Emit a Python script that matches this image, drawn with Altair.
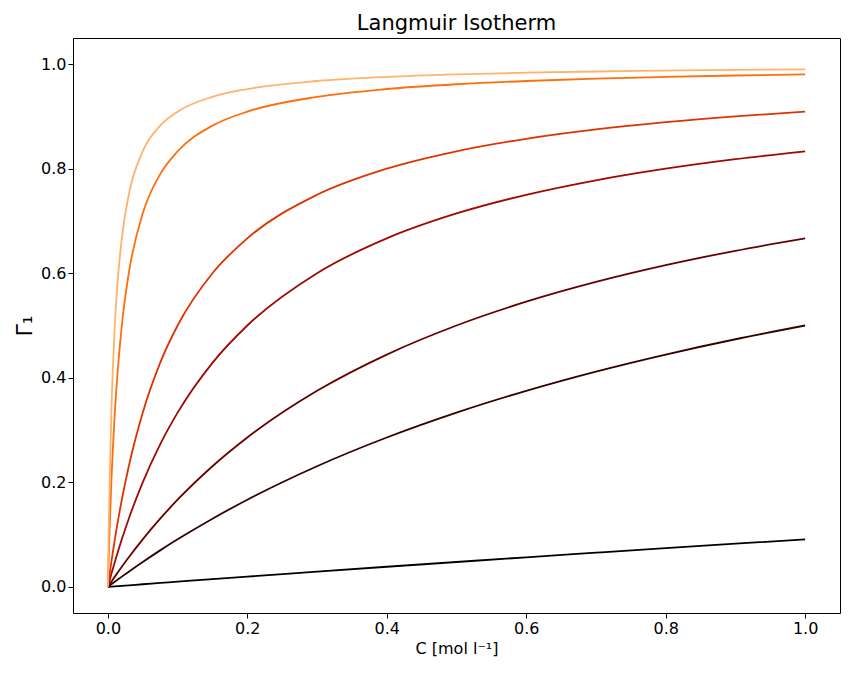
import altair as alt
import pandas as pd

conc = [0, 0.001, 0.002, 0.005, 0.01, 0.02, 0.03, 0.05, 0.075, 0.1, 0.15, 0.2,
        0.3, 0.4, 0.5, 0.6, 0.7, 0.8, 0.9, 1.0]

curves = {
    "K=0.1": [0, .0001, .0002, .0005, .001, .002, .003, .005, .0075, .01, .015, .0196,
              .0291, .0385, .0476, .0566, .0654, .0741, .0826, .0909],
    "K=1": [0, .001, .002, .005, .0099, .0196, .0291, .0476, .0698, .0909, .1304, .1667,
            .2308, .2857, .3333, .375, .4118, .4444, .4737, .5],
    "K=2": [0, .002, .004, .0099, .0196, .0385, .0566, .0909, .1304, .1667, .2308, .2857,
            .375, .4444, .5, .5455, .5833, .6154, .6429, .6667],
    "K=5": [0, .005, .0099, .0244, .0476, .0909, .1304, .2, .2727, .3333, .4286, .5,
            .6, .6667, .7143, .75, .7778, .8, .8182, .8333],
    "K=10": [0, .0099, .0196, .0476, .0909, .1667, .2308, .3333, .4286, .5, .6, .6667,
             .75, .8, .8333, .8571, .875, .8889, .9, .9091],
    "K=50": [0, .0476, .0909, .2, .3333, .5, .6, .7143, .7895, .8333, .8824, .9091,
             .9375, .9524, .9615, .9677, .9722, .9756, .9783, .9804],
    "K=100": [0, .0909, .1667, .3333, .5, .6667, .75, .8333, .8824, .9091, .9375, .9524,
              .9677, .9756, .9804, .9836, .9859, .9877, .989, .9901],
}
colors = ["#000000", "#330000", "#660000", "#9e0a00", "#dd3300", "#ff6e0a", "#ffb26b"]

rows = []
for name, vals in curves.items():
    for c, g in zip(conc, vals):
        rows.append({"series": name, "C": c, "G": g})
df = pd.DataFrame(rows)

chart = (
    alt.Chart(df)
    .mark_line(interpolate="monotone", strokeWidth=1.8, clip=True)
    .encode(
        x=alt.X("C:Q", title="C [mol l⁻¹]",
                scale=alt.Scale(domain=[-0.05, 1.05], nice=False, zero=False),
                axis=alt.Axis(values=[0, 0.2, 0.4, 0.6, 0.8, 1.0], format=".1f")),
        y=alt.Y("G:Q", title="Γ₁",
                scale=alt.Scale(domain=[-0.05, 1.05], nice=False, zero=False),
                axis=alt.Axis(values=[0, 0.2, 0.4, 0.6, 0.8, 1.0], format=".1f",
                              titleFontSize=22, titleFontWeight="normal")),
        color=alt.Color("series:N", sort=list(curves.keys()),
                        scale=alt.Scale(domain=list(curves.keys()), range=colors),
                        legend=None),
    )
    .properties(width=767, height=575,
                title=alt.Title("Langmuir Isotherm", fontSize=21, fontWeight="normal"))
    .configure_view(stroke="black", strokeWidth=1)
    .configure_axis(grid=False, labelFontSize=16, titleFontSize=16,
                    titleFontWeight="normal", domain=False, tickColor="black",
                    labelColor="black", titleColor="black", tickSize=5,
                    labelFont="DejaVu Sans", titleFont="DejaVu Sans")
    .configure_title(font="DejaVu Sans", color="black")
)

chart.save("out.html", embed_options={"renderer": "svg", "actions": False})
